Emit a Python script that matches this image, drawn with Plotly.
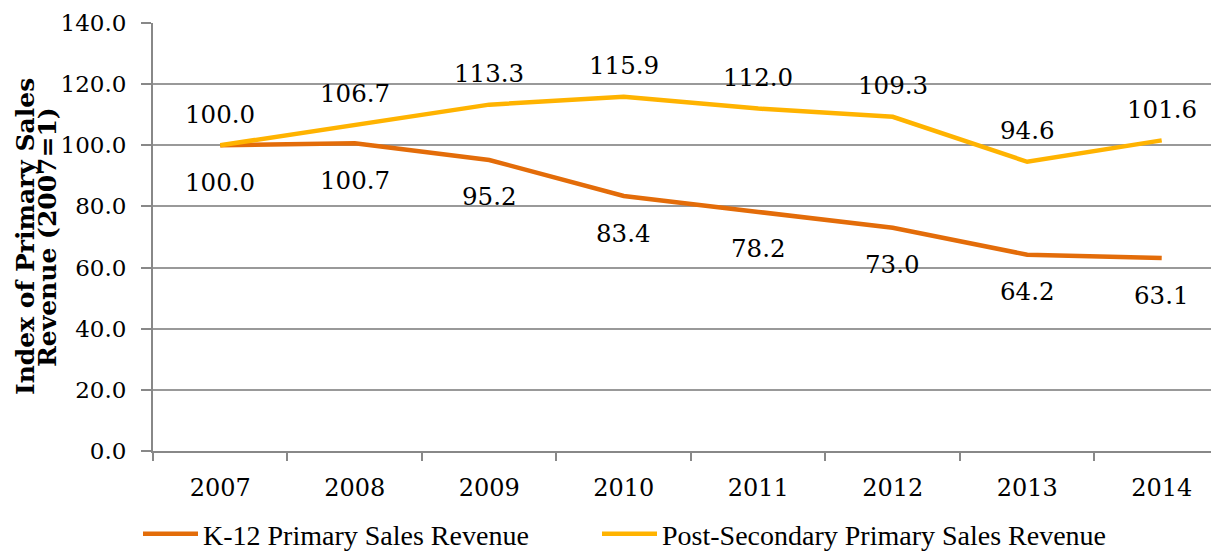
import plotly.graph_objects as go

years = ["2007", "2008", "2009", "2010", "2011", "2012", "2013", "2014"]
k12 = [100.0, 100.7, 95.2, 83.4, 78.2, 73.0, 64.2, 63.1]
post = [100.0, 106.7, 113.3, 115.9, 112.0, 109.3, 94.6, 101.6]
y_ticks = [0, 20, 40, 60, 80, 100, 120, 140]

FONT = "DejaVu Serif"
LEG_FONT = "Liberation Serif"
k12_color = "#E36C09"
post_color = "#FFB300"

W, H = 1211, 545
L, R, T, B = 145, 0, 15, 102
PW = W - L - R

fig = go.Figure()
fig.add_trace(go.Scatter(x=years, y=k12, mode="lines", name="K-12 Primary Sales Revenue",
                         line=dict(color=k12_color, width=4.5), legend="legend"))
fig.add_trace(go.Scatter(x=years, y=post, mode="lines", name="Post-Secondary Primary Sales Revenue",
                         line=dict(color=post_color, width=4.5), legend="legend2"))

for i, yv in enumerate(post):
    fig.add_annotation(x=i, y=yv, text=f"{yv:.1f}", showarrow=False, yshift=31,
                       font=dict(family=FONT, size=24.5, color="black"))
for i, yv in enumerate(k12):
    fig.add_annotation(x=i, y=yv, text=f"{yv:.1f}", showarrow=False, yshift=-37,
                       font=dict(family=FONT, size=24.5, color="black"))

title_lines = ["Index of Primary Sales", "Revenue (2007=1)"]
for xpx, line in zip([25, 47], title_lines):
    fig.add_annotation(xref="paper", yref="paper", x=(xpx - 8 - L) / PW, y=0.5,
                       xanchor="center", yanchor="middle",
                       text=f"<b>{line}</b>", textangle=-90,
                       showarrow=False, font=dict(family=FONT, size=25, color="black"))

legend_common = dict(orientation="h", xref="container", yref="container",
                     xanchor="left", y=19 / H, yanchor="middle",
                     font=dict(family=LEG_FONT, size=28, color="black"), itemwidth=55,
                     bgcolor="rgba(0,0,0,0)")

fig.update_layout(
    width=W, height=H,
    margin=dict(l=L, r=R, t=T, b=B),
    paper_bgcolor="white", plot_bgcolor="white",
    font=dict(family=FONT, size=23, color="black"),
    showlegend=True,
    legend=dict(x=130 / W, **legend_common),
    legend2=dict(x=589 / W, **legend_common),
)
fig.update_xaxes(type="category", range=[-0.5, 7.426], showgrid=False, automargin=False,
                 showline=True, linecolor="#888888", linewidth=2,
                 ticks="outside", ticklen=8, tickcolor="#888888", tickwidth=2,
                 tickson="boundaries", ticklabelstandoff=14, tickfont=dict(family=FONT, size=24))
fig.update_yaxes(range=[0, 140], tickvals=y_ticks, ticktext=[f"{v:.1f}" for v in y_ticks],
                 automargin=False,
                 showgrid=True, gridcolor="#999999", gridwidth=1.5,
                 showline=True, linecolor="#888888", linewidth=2,
                 ticks="outside", ticklen=10, tickcolor="#888888", tickwidth=2,
                 zeroline=False, ticklabelstandoff=10, tickfont=dict(family=FONT, size=23))

fig.write_html("out.html")
